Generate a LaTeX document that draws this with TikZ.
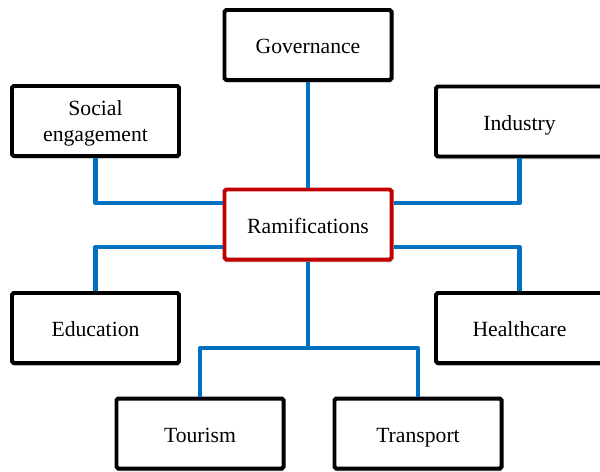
\documentclass[tikz,border=0pt]{standalone}
\usepackage{fontspec}
\setmainfont{Liberation Serif}
\usetikzlibrary{shadows}

\definecolor{linkblue}{HTML}{0070C0}
\definecolor{hubred}{HTML}{C00000}

\tikzset{
    topic/.style={draw=black, line width=3.4pt, fill=white, rounded corners=1.5pt,
        minimum width=5.01cm, minimum height=2.1cm, align=center,
        text height=15pt, text depth=0pt,
        font=\rmfamily\fontsize{18.5}{23}\selectfont,
        drop shadow={shadow xshift=1pt, shadow yshift=-2.5pt, opacity=0.3, fill=black!60}},
    hub/.style={topic, draw=hubred},
    link/.style={draw=linkblue, line width=4pt, line join=round}
}

\begin{document}
\begin{tikzpicture}[x=0.03cm, y=-0.03cm]
    \useasboundingbox (0, 0) rectangle (600, 471);

    \node[hub] (ramif) at (308, 224.5) {Ramifications};
    \node[topic] (gov) at (308, 45) {Governance};
    \node[topic, text height=, text depth=0pt] (social) at (95.5, 121) {Social\\engagement};
    \node[topic] (industry) at (519.5, 121.5) {Industry};
    \node[topic] (edu) at (95.5, 328) {Education};
    \node[topic] (health) at (519.5, 328) {Healthcare};
    \node[topic] (tourism) at (200, 433.5) {Tourism};
    \node[topic] (transport) at (418, 433.5) {Transport};

    \coordinate (upper) at (0, 203);
    \coordinate (lower) at (0, 247);
    \coordinate (split) at (0, 348);

    \draw[link] (gov.south) -- (ramif.north);
    \draw[link] (social.south) |- (ramif.west |- upper);
    \draw[link] (industry.south) |- (ramif.east |- upper);
    \draw[link] (edu.north) |- (ramif.west |- lower);
    \draw[link] (health.north) |- (ramif.east |- lower);
    \draw[link] (ramif.south) -- (ramif.south |- split);
    \draw[link] (tourism.north) -- (tourism.north |- split)
        -- (transport.north |- split) -- (transport.north);

\end{tikzpicture}
\end{document}
